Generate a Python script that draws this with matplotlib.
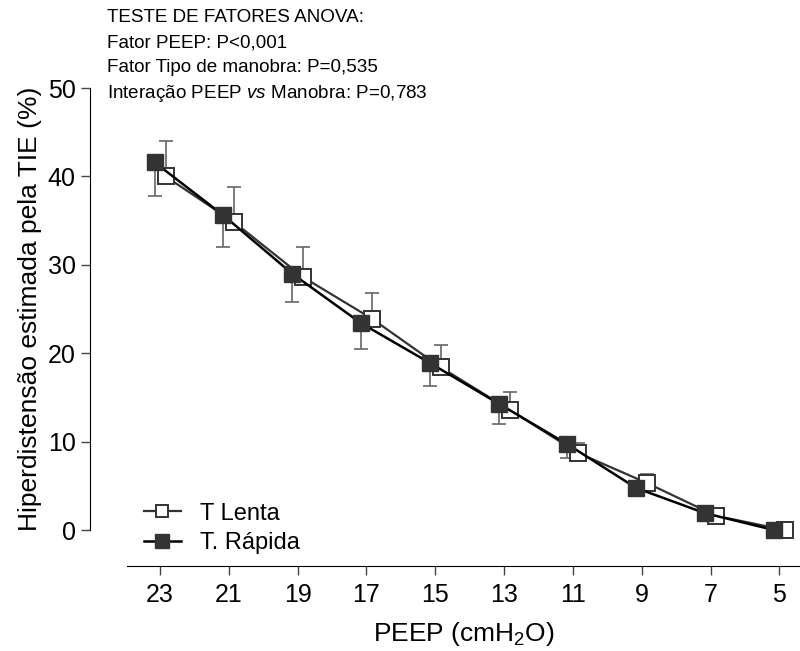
import numpy as np
import matplotlib
matplotlib.use("Agg")
import matplotlib.pyplot as plt

plt.rcParams['font.family'] = ['Liberation Sans', 'DejaVu Sans']
plt.rcParams['mathtext.fontset'] = 'custom'
plt.rcParams['mathtext.rm'] = 'Liberation Sans'
plt.rcParams['mathtext.it'] = 'Liberation Sans:italic'

peep = np.array([23, 21, 19, 17, 15, 13, 11, 9, 7, 5])
lenta_mean = np.array([40.0, 34.8, 28.6, 23.9, 18.4, 13.6, 8.7, 5.3, 1.6, 0.0])
lenta_sd = np.array([4.0, 4.0, 3.4, 2.9, 2.5, 2.0, 1.1, 1.0, 0.2, 0.1])
rapida_mean = np.array([41.6, 35.6, 29.0, 23.4, 18.9, 14.3, 9.7, 4.75, 1.9, 0.0])
rapida_sd = np.array([3.8, 3.6, 3.2, 2.9, 2.6, 2.3, 1.6, 0.3, 0.2, 0.1])

anova_lines = [
    "TESTE DE FATORES ANOVA:",
    "Fator PEEP: P<0,001",
    "Fator Tipo de manobra: P=0,535",
    r"Interação PEEP $\it{vs}$ Manobra: P=0,783",
]

fig = plt.figure(figsize=(8, 6.51), dpi=100)
ax = fig.add_axes([127 / 800, (651 - 530) / 651, 673 / 800, (530 - 88) / 651])

off = 0.16
zero = np.zeros(len(peep))

# T Lenta (open squares, upper error bars)
ax.errorbar(peep - off, lenta_mean, yerr=[zero, lenta_sd], fmt='none',
            ecolor='#666666', elinewidth=1.2, capsize=5, capthick=1.2,
            zorder=2, clip_on=False)
ax.plot(peep - off, lenta_mean, '-', color='#333333', lw=1.6, marker='s',
        ms=11, mfc='white', mec='#333333', mew=1.4, zorder=3,
        clip_on=False, label='T Lenta')

# T. Rápida (filled squares, lower error bars)
ax.errorbar(peep + off, rapida_mean, yerr=[rapida_sd, zero], fmt='none',
            ecolor='#666666', elinewidth=1.2, capsize=5, capthick=1.2,
            zorder=2, clip_on=False)
ax.plot(peep + off, rapida_mean, '-', color='black', lw=1.8, marker='s',
        ms=11.5, mfc='#333333', mec='#333333', mew=1, zorder=4,
        clip_on=False, label='T. Rápida')

ax.set_xlim(23.96, 4.4)
ax.set_ylim(0, 50)
ax.set_xticks(peep)
ax.set_yticks([0, 10, 20, 30, 40, 50])

for s in ['top', 'right']:
    ax.spines[s].set_visible(False)
ax.spines['left'].set_position(('outward', 26.5))
ax.spines['bottom'].set_position(('outward', 26))
ax.spines['left'].set_bounds(0, 50)
ax.tick_params(axis='both', labelsize=18, length=6.5, width=1,
               direction='out', color='#444444', pad=4)
ax.tick_params(axis='x', pad=6)

ax.set_ylabel("Hiperdistensão estimada pela TIE (%)", fontsize=19, labelpad=4)
ax.set_xlabel(r"PEEP (cmH$_\mathregular{2}$O)", fontsize=19, labelpad=9)

ax.legend(loc='lower left', bbox_to_anchor=(-0.007, -0.102), frameon=False,
          fontsize=17, handlelength=1.6, handletextpad=0.8, labelspacing=0.3,
          markerscale=0.85)

for i, line in enumerate(anova_lines):
    fig.text(107 / 800, 1 - (18 + 25 * i) / 651, line, fontsize=13.6,
             va='center', ha='left')

fig.savefig("out.png", dpi=100)
